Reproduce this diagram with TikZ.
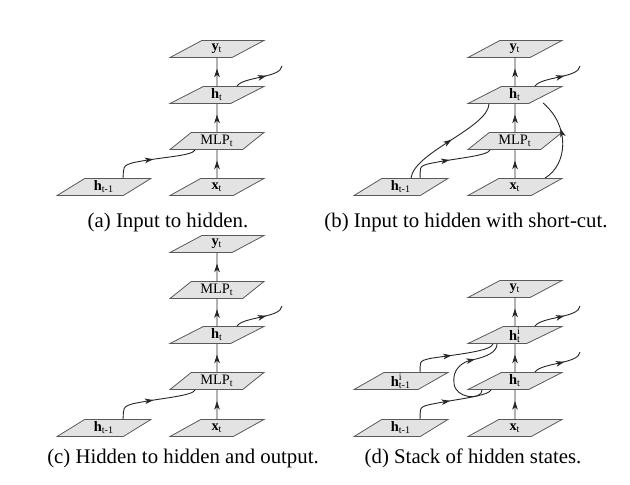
\documentclass[tikz,border=0pt]{standalone}
\usepackage{fontspec}
\setmainfont{Liberation Serif}
\usetikzlibrary{shapes.geometric,decorations.markings,arrows.meta,calc}
\tikzset{
  layer/.style={trapezium, trapezium left angle=40, trapezium right angle=140,
    trapezium stretches=true, minimum width=47pt, minimum height=8.5pt,
    inner sep=0pt, draw=black!65, fill=black!11, line width=0.4pt,
    font=\fontsize{7.2}{8}\selectfont},
  conn/.style={line width=0.45pt, draw=black!85, postaction={decorate},
    decoration={markings, mark=at position #1 with {\arrow{Stealth[length=4.3pt,width=2.8pt,inset=1.2pt]}}}},
  conn/.default=0.62,
  capt/.style={font=\fontsize{10.4}{12}\selectfont, anchor=base, inner sep=0pt},
}
\newcommand{\hbt}{\textbf{h}\textsubscript{t}}
\newcommand{\hbp}{\textbf{h}\textsubscript{t-1}}
\newcommand{\hbit}{\textbf{h}\rlap{\textsuperscript{i}}\textsubscript{t}}
\newcommand{\hbip}{\textbf{h}\rlap{\textsuperscript{i}}\textsubscript{t-1}}
\newcommand{\ybt}{\textbf{y}\textsubscript{t}}
\newcommand{\xbt}{\textbf{x}\textsubscript{t}}
\newcommand{\mlpt}{MLP\textsubscript{t}}
\begin{document}
\begin{tikzpicture}[x=0.5pt,y=-0.5pt]
\useasboundingbox (0,0) rectangle (630,485);

% ---------- (a) ----------
\node[layer] (ay) at (217,49) {\ybt};
\node[layer] (ah) at (217,95) {\hbt};
\node[layer] (am) at (217,141) {\mlpt};
\node[layer] (ax) at (217,187) {\xbt};
\node[layer] (ahp) at (104,187) {\hbp};
\coordinate (aout) at ($(ah.center)+(65,-29)$);
\coordinate (amid) at ($(ahp.north)+(32,-16)$);
\draw[conn] (ax) -- (am);
\draw[conn] (am) -- (ah);
\draw[conn] (ah) -- (ay);
\draw[conn] ($(ah.north)+(20,0)$) .. controls +(6,-9.5) and +(-1,12) .. (aout);
\draw[conn=0.49] ($(ahp.north)+(19,0)$) .. controls +(1,-10) and +(-15,3) .. (amid)
   .. controls +(25,-5) and +(-2,6) .. ($(am.south)+(-22,0)$);
\node[capt] (capa) at (168,228) {(a) Input to hidden.};

% ---------- (b) ----------
\node[layer] (by) at (515,49) {\ybt};
\node[layer] (bh) at (515,95) {\hbt};
\node[layer] (bm) at (515,141) {\mlpt};
\node[layer] (bx) at (515,187) {\xbt};
\node[layer] (bhp) at (401,187) {\hbp};
\coordinate (bout) at ($(bh.center)+(65,-29)$);
\coordinate (bmid) at ($(bhp.north)+(31,-15)$);
\draw[conn] (bx) -- (bm);
\draw[conn] (bm) -- (bh);
\draw[conn] (bh) -- (by);
\draw[conn] ($(bh.north)+(20,0)$) .. controls +(6,-9.5) and +(-1,12) .. (bout);
\draw[conn=0.49] ($(bhp.north)+(19,0)$) .. controls +(1,-10) and +(-15,3) .. (bmid)
   .. controls +(25,-5) and +(-2,6) .. ($(bm.south)+(-25,0)$);
\draw[conn=0.52] ($(bhp.north)+(10,0)$) .. controls +(3,-26) and +(-1,24) .. ($(bh.south)+(-26,0)$);
\draw[conn=0.64] ($(bx.north)+(30,0)$) .. controls +(23,-14) and +(27,23) .. ($(bh.south)+(28,-1)$);
\node[capt] (capb) at (466,228) {(b) Input to hidden with short-cut.};

% ---------- (c) ----------
\node[layer] (cy) at (217,244) {\ybt};
\node[layer] (cm2) at (217,290) {\mlpt};
\node[layer] (ch) at (217,335) {\hbt};
\node[layer] (cm) at (217,381) {\mlpt};
\node[layer] (cx) at (217,428) {\xbt};
\node[layer] (chp) at (104,428) {\hbp};
\coordinate (cout) at ($(ch.center)+(65,-29)$);
\coordinate (cmid) at ($(chp.north)+(32,-16)$);
\draw[conn] (cx) -- (cm);
\draw[conn] (cm) -- (ch);
\draw[conn] (ch) -- (cm2);
\draw[conn] (cm2) -- (cy);
\draw[conn] ($(ch.north)+(20,0)$) .. controls +(6,-9.5) and +(-1,12) .. (cout);
\draw[conn=0.49] ($(chp.north)+(19,0)$) .. controls +(1,-10) and +(-15,3) .. (cmid)
   .. controls +(25,-5) and +(-2,6) .. ($(cm.south)+(-22,0)$);
\node[capt] (capc) at (183,463) {(c) Hidden to hidden and output.};

% ---------- (d) ----------
\node[layer] (dy) at (515,289) {\ybt};
\node[layer] (dhi) at (515,335) {\hbit};
\node[layer] (dh) at (515,381) {\hbt};
\node[layer] (dx) at (515,428) {\xbt};
\node[layer] (dhip) at (401,381) {\hbip};
\node[layer] (dhp) at (401,428) {\hbp};
\coordinate (douti) at ($(dhi.center)+(65,-29)$);
\coordinate (dout) at ($(dh.center)+(65,-29)$);
\coordinate (dmid) at ($(dhp.north)+(31,-15)$);
\coordinate (dmidi) at ($(dhip.north)+(31,-14)$);
\coordinate (dl1) at ($(dh.south)+(-61,-6.5)$);
\coordinate (dl2) at ($(dh.south)+(-43,-30)$);
\draw[conn] (dx) -- (dh);
\draw[conn] (dh) -- (dhi);
\draw[conn] (dhi) -- (dy);
\draw[conn] ($(dhi.north)+(20,0)$) .. controls +(6,-9.5) and +(-1,12) .. (douti);
\draw[conn] ($(dh.north)+(20,0)$) .. controls +(6,-9.5) and +(-1,12) .. (dout);
\draw[conn=0.49] ($(dhp.north)+(19,0)$) .. controls +(1,-10) and +(-15,3) .. (dmid)
   .. controls +(25,-5) and +(-2,6) .. ($(dh.south)+(-24,0)$);
\draw[conn=0.49] ($(dhip.north)+(19,0)$) .. controls +(1,-10) and +(-15,3) .. (dmidi)
   .. controls +(28,-4) and +(-2,7) .. ($(dhi.south)+(-22,0)$);
\draw[conn=0.72] ($(dh.south)+(-33,0)$) .. controls +(0,11) and +(1,15) .. (dl1)
   .. controls +(-2,-14) and +(-10,2) .. (dl2)
   .. controls +(15,-3) and +(0,8) .. ($(dhi.south)+(-18,0)$);
\node[capt] (capd) at (473,463) {(d) Stack of hidden states.};
\end{tikzpicture}
\end{document}
